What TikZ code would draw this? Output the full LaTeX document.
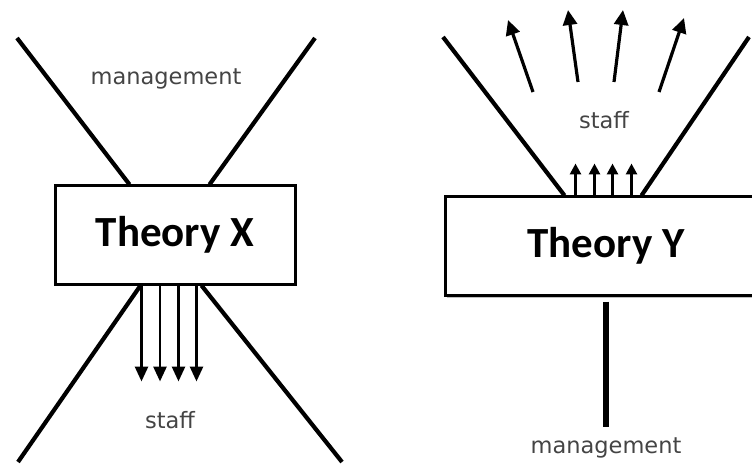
\documentclass[tikz,border=0pt]{standalone}
\usepackage{fontspec}
\setmainfont{DejaVu Sans}
\newfontfamily\boxfont{Carlito}
\usepackage{tikz}
\usetikzlibrary{arrows.meta, positioning, calc, shadows}
\definecolor{labelgray}{HTML}{444444}

\begin{document}
\begin{tikzpicture}[
    x=1pt, y=-1pt,
    theory/.style={rectangle, draw=black, fill=white, line width=3pt, minimum width=240pt, minimum height=98pt, inner sep=0pt, font=\boxfont\bfseries\fontsize{43}{50}\selectfont},
    word/.style={inner sep=0pt, text=labelgray, font=\fontsize{22.5}{26}\selectfont},
    wall/.style={line width=4.2pt, black},
    pushdown/.style={-{Triangle[length=15pt, width=13pt]}, line width=2.8pt},
    pushup/.style={-{Triangle[length=11pt, width=11pt]}, line width=2.8pt},
    fanout/.style={-{Triangle[length=15pt, width=14pt]}, line width=3.2pt}
]
\useasboundingbox (0,0) rectangle (752,465);
\clip (0,0) rectangle (752,465);

% Left: Theory X
\node[theory] (theory_x) at (175,235) {Theory X};
\node[word] (mgmt_x) at (166,79) {management};
\node[word] (staff_x) at (170,420) {staff};

% Crossing lines
\coordinate (x_nw) at (17,38);
\coordinate (x_ne) at (315,38);
\coordinate (x_sw) at (18,462);
\coordinate (x_se) at (342,462);
\draw[wall] (x_nw) -- ($(theory_x.north west)+(76,0)$);
\draw[wall] (x_ne) -- ($(theory_x.north west)+(156,0)$);
\draw[wall] ($(theory_x.south west)+(87,0)$) -- (x_sw);
\draw[wall] ($(theory_x.south west)+(148,0)$) -- (x_se);

% Downward Arrows
\foreach \i/\dx in {1/88,2/106.5,3/125,4/143}{
  \coordinate (drop_\i) at ($(theory_x.south west)+(\dx,96)$);
  \draw[pushdown] ($(theory_x.south west)+(\dx,0)$) -- (drop_\i);
}

% Right: Theory Y
\node[theory, minimum width=322pt, drop shadow={shadow xshift=2pt, shadow yshift=-3pt, fill=black!25, opacity=1}] (theory_y) at (606,246) {Theory Y};
\node[word] (staff_y) at (604,120) {staff};
\node[word] (mgmt_y) at (606,448) {management};

% Opening lines
\coordinate (y_nw) at (443,37);
\coordinate (y_ne) at (749,37);
\draw[wall] (y_nw) -- ($(theory_y.north west)+(121,0)$);
\draw[wall] (y_ne) -- ($(theory_y.north west)+(198,0)$);

% Upward Arrows
\foreach \i/\dx in {1/132,2/151,3/169,4/188}{
  \coordinate (rise_\i) at ($(theory_y.north west)+(\dx,-32)$);
  \draw[pushup] ($(theory_y.north west)+(\dx,0)$) -- (rise_\i);
}

% Fan Arrows
\foreach \i/\sx/\sy/\ex/\ey in {1/533/92/508/20, 2/578/82/568/10, 3/614/82/623/10, 4/659/92/684/18}{
  \coordinate (fan_a\i) at (\sx,\sy);
  \coordinate (fan_b\i) at (\ex,\ey);
  \draw[fanout] (fan_a\i) -- (fan_b\i);
}

% Stem
\coordinate (y_root) at (606,427);
\draw[line width=6.5pt] ($(theory_y.south)+(0,5)$) -- (y_root);

\end{tikzpicture}
\end{document}
